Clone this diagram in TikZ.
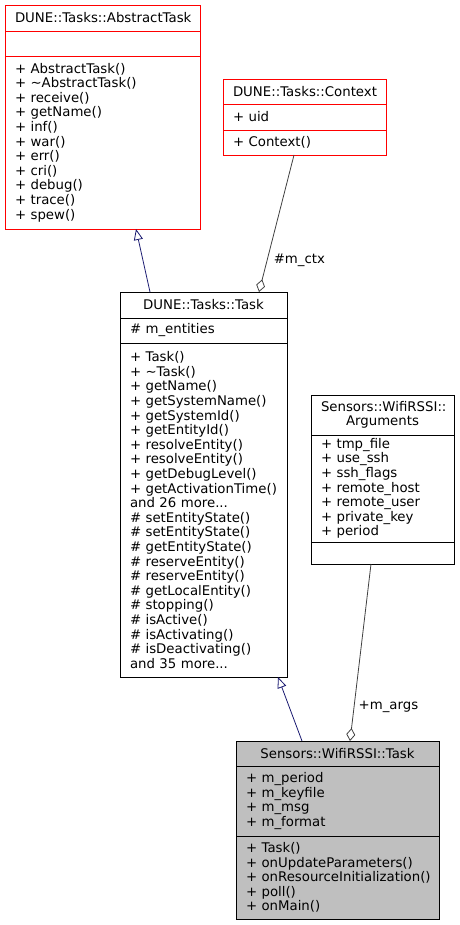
\documentclass[tikz,border=0pt]{standalone}
\usepackage{fontspec}
\newfontfamily\umlfont{DejaVu Sans}
\usetikzlibrary{positioning,arrows.meta}

\definecolor{inhblue}{HTML}{191970}
\definecolor{usegray}{HTML}{404040}
\definecolor{curgray}{HTML}{BFBFBF}

\newcommand{\umltext}{\umlfont\fontsize{13.3pt}{14.6pt}\selectfont}

\tikzset{
  cls/.style={draw, line width=0.8pt, fill=white, inner xsep=10pt, inner ysep=0pt,
    outer sep=0pt, font=\umltext, text width=#1},
  hd/.style={cls=#1, align=center},
  mb/.style={cls=#1, align=left},
  undoc/.style={draw=red},
  current/.style={fill=curgray},
  inherit/.style={draw=inhblue, line width=0.8pt, -{Triangle[open,length=11pt,width=9pt]}},
  usage/.style={draw=usegray, line width=0.8pt, {Diamond[open,length=13pt,width=9pt]}-}
}

\begin{document}
\begin{tikzpicture}[x=1pt,y=-1pt]
  \useasboundingbox (0,0) rectangle (459,925);

  \node [hd=175pt,undoc,minimum height=26pt,anchor=north] (abstract) at (102.5,5) {DUNE::Tasks::AbstractTask};
  \node [mb=175pt,undoc,minimum height=25pt,below=0pt of abstract] (abstract-a) {};
  \node [mb=175pt,undoc,minimum height=173pt,below=0pt of abstract-a] (abstract-m) {+ AbstractTask()\\+ \textasciitilde AbstractTask()\\+ receive()\\+ getName()\\+ inf()\\+ war()\\+ err()\\+ cri()\\+ debug()\\+ trace()\\+ spew()};

  \node [hd=143pt,undoc,minimum height=25pt,anchor=north] (context) at (304.5,79) {DUNE::Tasks::Context};
  \node [mb=143pt,undoc,minimum height=26pt,below=0pt of context] (context-a) {+ uid};
  \node [mb=143pt,undoc,minimum height=25pt,below=0pt of context-a] (context-m) {+ Context()};

  \node [hd=147pt,minimum height=26pt,anchor=north] (task) at (203.5,292) {DUNE::Tasks::Task};
  \node [mb=147pt,minimum height=25pt,below=0pt of task] (task-a) {\# m\_entities};
  \node [mb=147pt,minimum height=334pt,below=0pt of task-a] (task-m) {+ Task()\\+ \textasciitilde Task()\\+ getName()\\+ getSystemName()\\+ getSystemId()\\+ getEntityId()\\+ resolveEntity()\\+ resolveEntity()\\+ getDebugLevel()\\+ getActivationTime()\\and 26 more...\\\# setEntityState()\\\# setEntityState()\\\# getEntityState()\\\# reserveEntity()\\\# reserveEntity()\\\# getLocalEntity()\\\# stopping()\\\# isActive()\\\# isActivating()\\\# isDeactivating()\\and 35 more...};

  \node [hd=123pt,minimum height=40pt,anchor=north] (args) at (382.5,395) {Sensors::WifiRSSI::\\Arguments};
  \node [mb=123pt,minimum height=107pt,below=0pt of args] (args-a) {+ tmp\_file\\+ use\_ssh\\+ ssh\_flags\\+ remote\_host\\+ remote\_user\\+ private\_key\\+ period};
  \node [mb=123pt,minimum height=22pt,below=0pt of args-a] (args-m) {};

  \node [hd=183pt,current,minimum height=25pt,anchor=north] (wifi) at (337.5,741) {Sensors::WifiRSSI::Task};
  \node [mb=183pt,current,minimum height=70pt,below=0pt of wifi] (wifi-a) {+ m\_period\\+ m\_keyfile\\+ m\_msg\\+ m\_format};
  \node [mb=183pt,current,minimum height=83pt,below=0pt of wifi-a] (wifi-m) {+ Task()\\+ onUpdateParameters()\\\mbox{+ onResourceInitialization()}\\+ poll()\\+ onMain()};

  \draw [inherit] ([xshift=-53.5pt]task.north) -- ([xshift=33.5pt]abstract-m.south);
  \draw [usage] ([xshift=55.5pt]task.north) -- node [pos=0.23,right=3pt,font=\umltext] {\#m\_ctx} ([xshift=-10.5pt]context-m.south);

  \draw [inherit] ([xshift=-35.5pt]wifi.north) -- ([xshift=74.5pt]task-m.south);
  \draw [usage] ([xshift=12.5pt]wifi.north) -- node [pos=0.19,right=1pt,font=\umltext] {+m\_args} ([xshift=-11.5pt]args-m.south);
\end{tikzpicture}
\end{document}
